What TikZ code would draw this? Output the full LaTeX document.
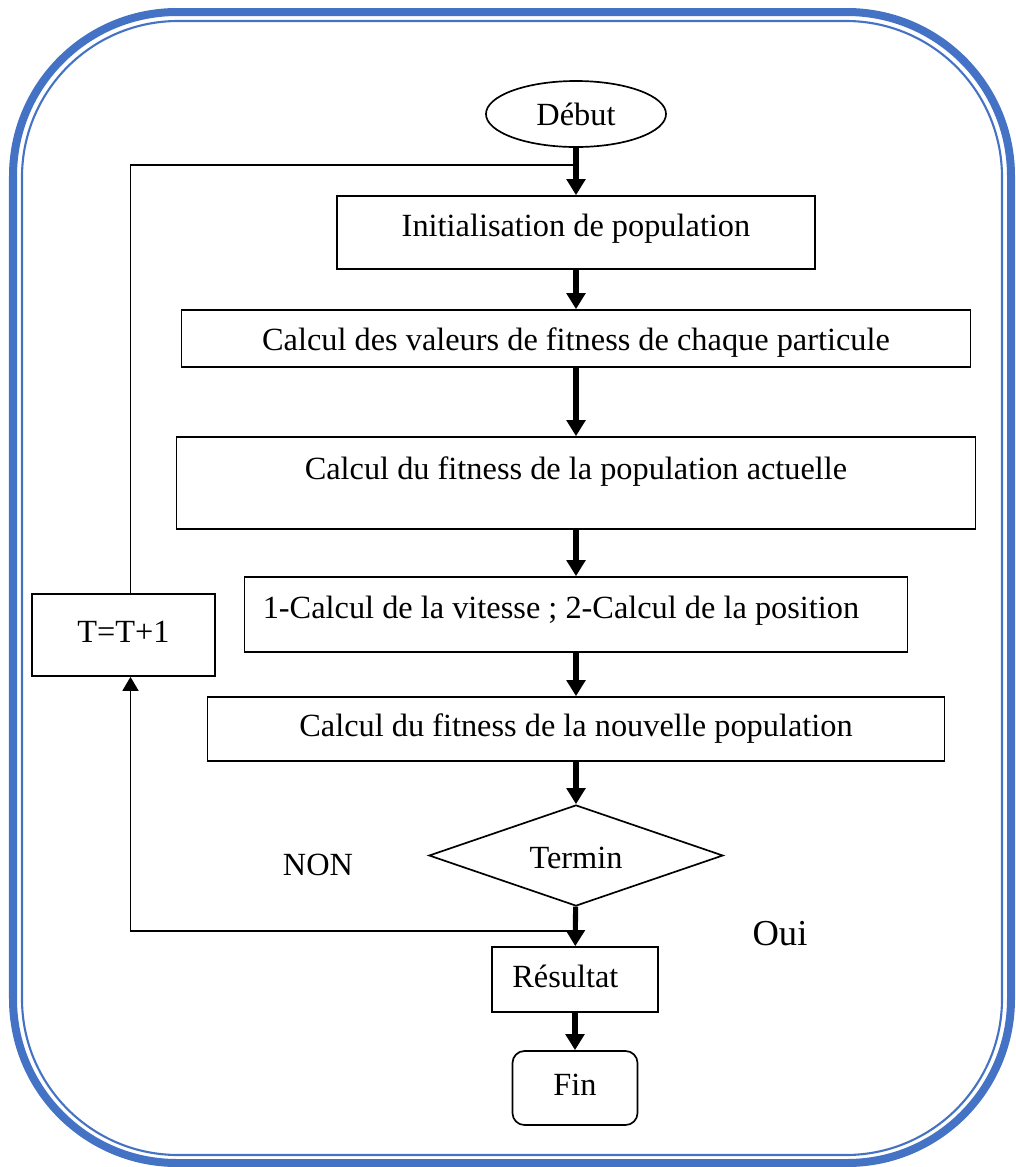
\documentclass[tikz,border=0pt]{standalone}
\usepackage{fontspec}
\setmainfont{Liberation Serif}
\usetikzlibrary{shapes.geometric,arrows.meta}
\definecolor{cadreblue}{HTML}{4472C4}
\tikzset{
	boite/.style = {rectangle, draw, line width=1.2pt, inner sep=0pt, text height=0.55cm, text depth=0.18cm},
	fleche/.style = {line width=3.6pt, -{Triangle[width=0.46cm,length=0.4cm]}},
	retour/.style = {line width=1.2pt},
}
\begin{document}
\begin{tikzpicture}[x=0.025cm, y=-0.025cm, font=\fontsize{23}{27}\selectfont]
	\useasboundingbox (0,0) rectangle (1016,1167);
	% double cadre
	\draw[cadreblue, line width=0.2cm, rounded corners=4.1cm] (13,12) rectangle (1011,1163);
	\draw[cadreblue, line width=1.5pt, rounded corners=3.9cm] (22,21) rectangle (1002,1155);

	\node (Deb)  at (576, 114)	[ellipse, draw, line width=1.2pt, minimum width=4.5cm, minimum height=1.65cm, inner sep=0pt]	{Début};
	\node (Init) at (576, 232.5)	[boite, minimum width=11.95cm, minimum height=1.825cm, text depth=0.34cm]	{Initialisation de population};
	\node (Fit)  at (576, 338.5)	[boite, minimum width=19.725cm, minimum height=1.425cm, text height=0.8cm]	{Calcul des valeurs de fitness de chaque particule};
	\node (Pop)  at (576, 483)	[boite, minimum width=19.975cm, minimum height=2.3cm, text depth=0.75cm]	{Calcul du fitness de la population actuelle};
	\node (Vit)  at (576, 614.5)	[boite, minimum width=16.575cm, minimum height=1.875cm, text depth=0.35cm]	{1-Calcul de la vitesse ; 2-Calcul de la position\rule{0.75cm}{0pt}};
	\node (New)  at (576, 729)	[boite, minimum width=18.425cm, minimum height=1.6cm]	{Calcul du fitness de la nouvelle population};
	\node (Term) at (576, 855.5)	[diamond, draw, line width=1.2pt, aspect=2.9, minimum width=7.35cm, minimum height=2.525cm, inner sep=0pt, text height=0.85cm, text depth=0.18cm]	{Termin};
	\node (Res)  at (575, 979.5)	[boite, minimum width=4.15cm, minimum height=1.625cm, text height=0.6cm]	{Résultat\rule{0.48cm}{0pt}};
	\node (Fin)  at (575, 1088)	[boite, rounded corners=0.3cm, minimum width=3.125cm, minimum height=1.85cm]	{Fin};
	\node (Incr) at (123.5, 635)	[boite, minimum width=4.575cm, minimum height=2.05cm]	{T=T+1};

	\node (Non) at (318, 865)	{NON};
	\node (Oui) at (780, 934)	[font=\fontsize{26}{30}\selectfont]	{Oui};

	\coordinate (J1) at (576, 165);
	\coordinate (J2) at (576, 931);

	\draw[fleche] (Deb) -- (Init);
	\draw[fleche] (Init) -- (Fit);
	\draw[fleche] (Fit) -- (Pop);
	\draw[fleche] (Pop) -- (Vit);
	\draw[fleche] (Vit) -- (New);
	\draw[fleche] (New) -- (Term);
	\draw[fleche] (Term) -- (Res);
	\draw[fleche] (Res) -- (Fin);

	% boucle NON
	\draw[retour, -{Triangle[width=0.4cm,length=0.35cm]}] (J2) -| ([xshift=0.175cm]Incr.south);
	\draw[retour] ([xshift=0.175cm]Incr.north) |- (J1);
\end{tikzpicture}
\end{document}
